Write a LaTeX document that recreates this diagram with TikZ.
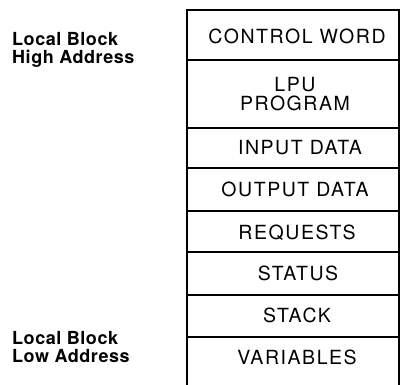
\documentclass[tikz,border=0pt]{standalone}
\usepackage{fontspec}
\setmainfont{TeX Gyre Heros}
\newfontfamily\cellfont[LetterSpace=8]{TeX Gyre Heros}
\newfontfamily\sidefont[LetterSpace=3]{TeX Gyre Heros}

\begin{document}
\begin{tikzpicture}[x=1pt, y=-1pt,
  cell/.style={font=\cellfont\fontsize{19.5}{19.5}\selectfont, inner sep=0pt, anchor=base},
  side/.style={font=\sidefont\bfseries\fontsize{18}{18}\selectfont, inner sep=0pt, align=left, anchor=north west}]
  \useasboundingbox (0,0) rectangle (400,385);
  % outline of the local block, open at the bottom
  \draw[line width=1.5pt] (187,385) -- (187,10) -- (399,10) -- (399,385);
  % row separators
  \foreach \y in {60,128,168,211,252,295,337}
    \draw[line width=1.5pt] (187,\y) -- (399,\y);
  % contents of the block
  \node[cell] (ctrl) at (297,44) {CONTROL WORD};
  \node[cell, align=center, anchor=center] (prog) at (295,94) {LPU\\PROGRAM};
  \node[cell] (input) at (300,155) {INPUT DATA};
  \node[cell] (output) at (295,197) {OUTPUT DATA};
  \node[cell] (req) at (297,240) {REQUESTS};
  \node[cell] (status) at (298,281) {STATUS};
  \node[cell] (stack) at (297,323) {STACK};
  \node[cell] (vars) at (297,365) {VARIABLES};
  % address labels
  \node[side] (high) at (12,32) {Local Block\\High Address};
  \node[side] (low) at (12,331) {Local Block\\Low Address};
\end{tikzpicture}
\end{document}
